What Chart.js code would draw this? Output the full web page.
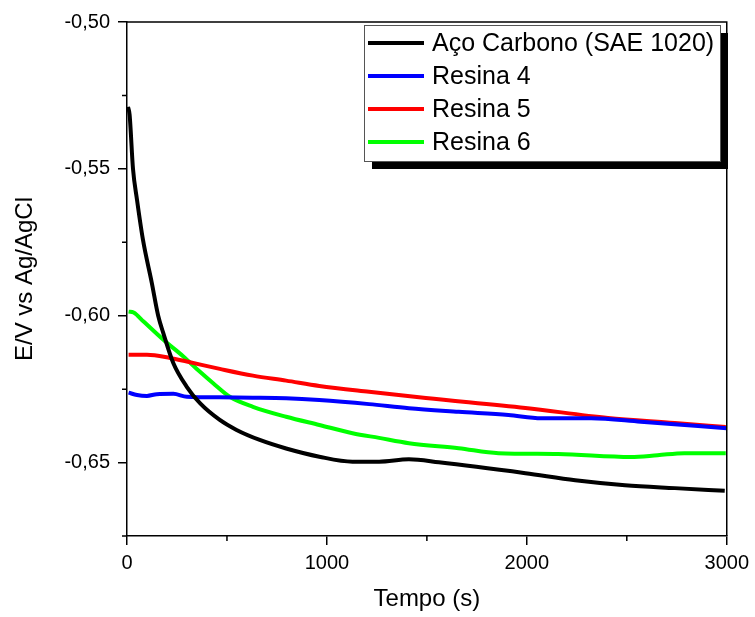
<!DOCTYPE html>
<html lang="pt-BR">
<head>
<meta charset="utf-8">
<title>Potencial de circuito aberto</title>
<script src="https://cdn.jsdelivr.net/npm/chart.js@4.4.1/dist/chart.umd.min.js"></script>
<style>
  html, body { margin: 0; padding: 0; background: #fff; }
  #caixa { width: 755px; height: 617px; }
</style>
</head>
<body>
<div id="caixa"><canvas id="meuGrafico"></canvas></div>
<script>
// dados (tempo em s, potencial em V)
const nomesSeries = ["Aço Carbono (SAE 1020)", "Resina 4", "Resina 5", "Resina 6"];
const coresSeries = ["#000000", "#0000ff", "#ff0000", "#00ff00"];

const tempoAco = [5, 13, 30, 50, 80, 124, 156, 182, 232, 299, 365, 464, 548, 664, 796, 962, 1128, 1261, 1410, 1560, 1993, 2242, 2491, 2740, 2990];
const potencialAco = [-0.5289, -0.5316, -0.5500, -0.5605, -0.5742, -0.5888, -0.6000, -0.6060, -0.6162, -0.6242, -0.6298, -0.6355, -0.6389, -0.6423, -0.6452, -0.6480, -0.6497, -0.6497, -0.6489, -0.6499, -0.6536, -0.6560, -0.6577, -0.6587, -0.6596];

const tempoResina4 = [8, 50, 100, 149, 232, 299, 464, 630, 796, 962, 1211, 1410, 1659, 1908, 2073, 2322, 2570, 3000];
const potencialResina4 = [-0.6262, -0.6270, -0.6273, -0.6267, -0.6266, -0.6276, -0.6278, -0.6279, -0.6281, -0.6287, -0.6301, -0.6315, -0.6327, -0.6338, -0.6349, -0.6349, -0.6361, -0.6383];

const tempoResina5 = [8, 100, 216, 299, 464, 630, 796, 962, 1211, 1495, 1993, 2406, 2740, 2995];
const potencialResina5 = [-0.6133, -0.6133, -0.6144, -0.6156, -0.6181, -0.6204, -0.6221, -0.6239, -0.6259, -0.6280, -0.6314, -0.6348, -0.6365, -0.6379];

const tempoResina6 = [8, 33, 83, 182, 282, 365, 431, 514, 630, 796, 962, 1128, 1261, 1410, 1659, 1858, 2157, 2520, 2654, 2788, 2995];
const potencialResina6 = [-0.5986, -0.5989, -0.6020, -0.6082, -0.6139, -0.6191, -0.6230, -0.6276, -0.6310, -0.6344, -0.6372, -0.6400, -0.6416, -0.6434, -0.6451, -0.6468, -0.6471, -0.6481, -0.6475, -0.6468, -0.6468];

const ticksTempo = [0, 1000, 2000, 3000];
const ticksPotencial = [-0.65, -0.60, -0.55, -0.50];

const fonte = "'Liberation Sans', Arial, sans-serif";

function juntar(tempos, valores) {
  return tempos.map((t, i) => ({ x: t, y: valores[i] }));
}

const tempos = [tempoAco, tempoResina4, tempoResina5, tempoResina6];
const potenciais = [potencialAco, potencialResina4, potencialResina5, potencialResina6];

const datasets = nomesSeries.map((nome, i) => ({
  label: nome,
  data: juntar(tempos[i], potenciais[i]),
  borderColor: coresSeries[i],
  backgroundColor: coresSeries[i],
  borderWidth: 4,
  pointRadius: 0,
  fill: false,
  cubicInterpolationMode: "monotone",
  order: i,
}));

// moldura, ticks menores e legenda com sombra
const extras = {
  id: "extras",
  afterDraw(chart) {
    const ctx = chart.ctx;
    const area = chart.chartArea;
    const x = chart.scales.x;
    const y = chart.scales.y;
    ctx.save();
    ctx.strokeStyle = "#000";
    ctx.lineWidth = 1.5;
    ctx.beginPath();
    ctx.moveTo(area.left, area.top);
    ctx.lineTo(area.right, area.top);
    ctx.lineTo(area.right, area.bottom);
    ctx.stroke();

    // ticks menores
    ctx.beginPath();
    [500, 1500, 2500].forEach(v => {
      const px = x.getPixelForValue(v);
      ctx.moveTo(px, area.bottom);
      ctx.lineTo(px, area.bottom + 5);
    });
    [-0.675, -0.625, -0.575, -0.525].forEach(v => {
      const py = y.getPixelForValue(v);
      ctx.moveTo(area.left, py);
      ctx.lineTo(area.left - 5, py);
    });
    ctx.stroke();

    // legenda
    const bx = 364, by = 25, bw = 356, bh = 136;
    ctx.fillStyle = "#000";
    ctx.fillRect(bx + 8, by + 8, bw, bh);
    ctx.fillStyle = "#fff";
    ctx.fillRect(bx, by, bw, bh);
    ctx.strokeStyle = "#555";
    ctx.lineWidth = 1;
    ctx.strokeRect(bx + 0.5, by + 0.5, bw, bh);
    ctx.font = "25px " + fonte;
    ctx.textBaseline = "middle";
    chart.data.datasets.forEach((d, i) => {
      const ly = 43 + i * 33;
      ctx.strokeStyle = d.borderColor;
      ctx.lineWidth = 4;
      ctx.beginPath();
      ctx.moveTo(368, ly);
      ctx.lineTo(424, ly);
      ctx.stroke();
      ctx.fillStyle = "#000";
      ctx.fillText(d.label, 432, ly + 1);
    });
    ctx.restore();
  }
};

const ctx = document.getElementById("meuGrafico").getContext("2d");
new Chart(ctx, {
  type: "line",
  data: { datasets: datasets },
  options: {
    responsive: true,
    maintainAspectRatio: false,
    animation: false,
    layout: { padding: { top: 22, right: 26, left: 0, bottom: 0 } },
    plugins: {
      legend: { display: false },
      tooltip: { enabled: false },
    },
    scales: {
      x: {
        type: "linear",
        min: 0,
        max: 3000,
        afterFit: s => { s.height = 81; },
        afterBuildTicks: s => { s.ticks = ticksTempo.map(v => ({ value: v })); },
        grid: { drawOnChartArea: false, drawTicks: true, tickLength: 9, color: "#000", lineWidth: 1.5 },
        border: { color: "#000", width: 1.5 },
        ticks: {
          color: "#000",
          font: { family: fonte, size: 20 },
          padding: 6,
          maxRotation: 0,
          callback: v => String(v),
        },
        title: { display: true, text: "Tempo (s)", color: "#000", font: { family: fonte, size: 24 }, padding: { top: 4, bottom: 3 } },
      },
      y: {
        min: -0.675,
        max: -0.50,
        afterFit: s => { s.width = 127; },
        afterBuildTicks: s => { s.ticks = ticksPotencial.map(v => ({ value: v })); },
        grid: { drawOnChartArea: false, drawTicks: true, tickLength: 9, color: "#000", lineWidth: 1.5 },
        border: { color: "#000", width: 1.5 },
        ticks: {
          color: "#000",
          font: { family: fonte, size: 20 },
          padding: 8,
          callback: v => v.toFixed(2).replace(".", ","),
        },
        title: { display: true, text: "E/V vs Ag/AgCl", color: "#000", font: { family: fonte, size: 24 }, padding: { top: 11, bottom: 4 } },
      },
    },
  },
  plugins: [extras],
});
</script>
</body>
</html>
